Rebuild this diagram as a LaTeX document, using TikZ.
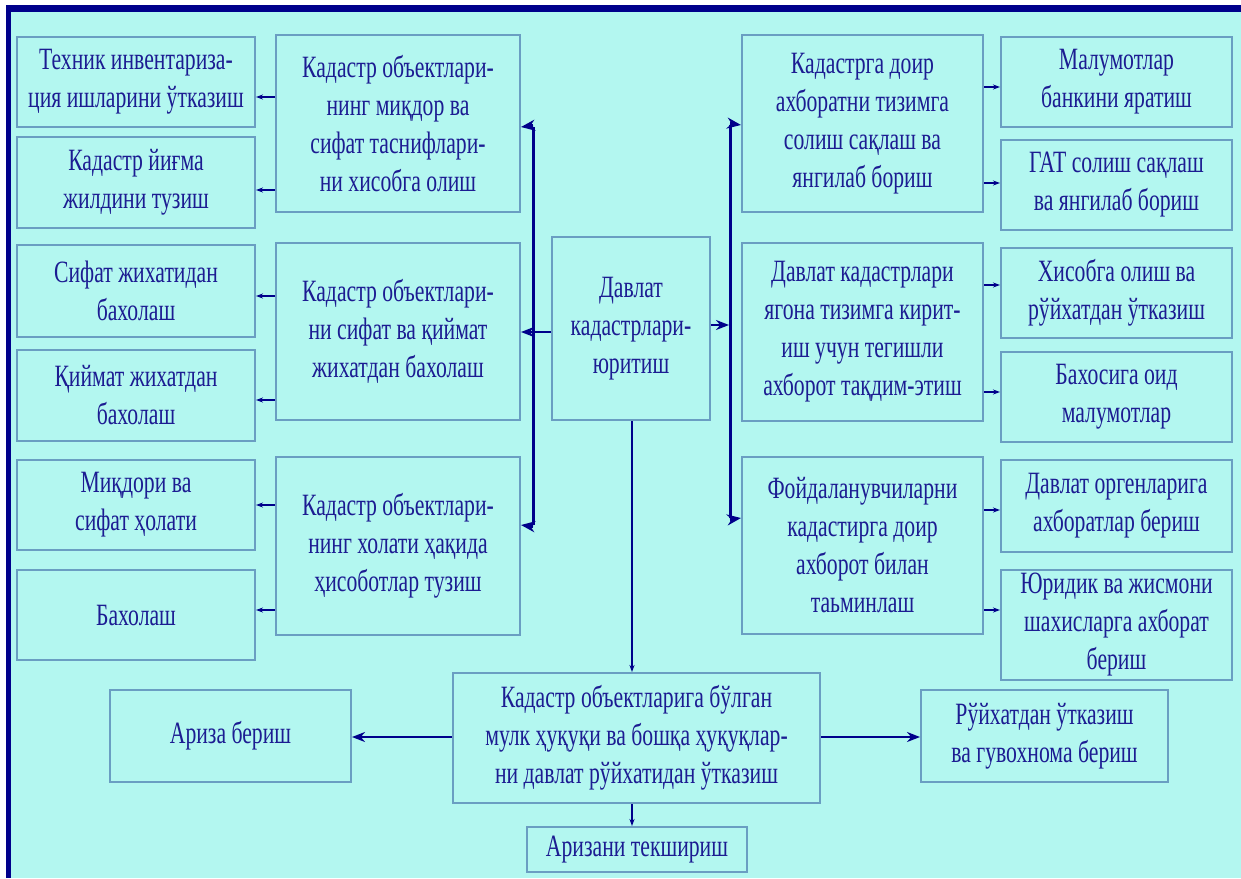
\documentclass[tikz,border=0pt]{standalone}
\usepackage{fontspec}
\setmainfont{Liberation Serif}[FakeStretch=0.70]
\usetikzlibrary{arrows.meta}
\definecolor{bg}{HTML}{B3F7F0}
\definecolor{navy}{HTML}{00008B}
\definecolor{txt}{HTML}{1C1C92}
\definecolor{bord}{HTML}{6A9EC2}
\begin{document}
\begin{tikzpicture}[x=1pt,y=-1pt,
  box/.style={draw=bord, line width=2pt, fill=bg, align=center, text=txt, inner sep=0pt,
              font=\fontsize{31}{38}\selectfont},
  sarrow/.style={draw=navy, line width=1.3pt, -{Stealth[length=7pt,width=5pt]}},
  marrow/.style={draw=navy, line width=2.2pt, -{Stealth[length=13pt,width=10pt]}},
  busline/.style={draw=navy, line width=3pt},
  busarrow/.style={draw=navy, line width=3pt, -{Stealth[length=14pt,width=11pt]}},
  ]
\useasboundingbox (0,0) rectangle (1241,878);
\fill[white] (0,0) rectangle (1241,878);
\fill[bg] (6,5) rectangle (1241,878);
\fill[navy] (6,5) rectangle (1241,12);
\fill[navy] (6,5) rectangle (11,878);

% left column
\node[box, minimum width=238, minimum height=90] (L1) at (136,82) {Техник инвентариза-\\ция ишларини ўтказиш};
\node[box, minimum width=238, minimum height=91] (L2) at (136,182.5) {Кадастр йиғма\\жилдини тузиш};
\node[box, minimum width=238, minimum height=92] (L3) at (136,291) {Сифат жихатидан\\бахолаш};
\node[box, minimum width=238, minimum height=91] (L4) at (136,395.5) {Қиймат жихатдан\\бахолаш};
\node[box, minimum width=238, minimum height=90] (L5) at (136,505) {Миқдори ва\\сифат ҳолати};
\node[box, minimum width=238, minimum height=90] (L6) at (136,615) {Бахолаш};

% middle-left column
\node[box, minimum width=244, minimum height=177] (M1) at (398,123.5) {Кадастр объектлари-\\нинг миқдор ва\\сифат таснифлари-\\ни хисобга олиш};
\node[box, minimum width=244, minimum height=177] (M2) at (398,331.5) {Кадастр объектлари-\\ни сифат ва қиймат\\жихатдан бахолаш};
\node[box, minimum width=244, minimum height=178] (M3) at (398,546) {Кадастр объектлари-\\нинг холати ҳақида\\ҳисоботлар тузиш};

% center
\node[box, minimum width=158, minimum height=183] (C) at (631,328.5) {Давлат\\кадастрлари-\\юритиш};

% middle-right column
\node[box, minimum width=241, minimum height=177] (R1) at (862.5,123.5) {Кадастрга доир\\ахборатни тизимга\\солиш сақлаш ва\\янгилаб бориш};
\node[box, minimum width=241, minimum height=178] (R2) at (862.5,332) {Давлат кадастрлари\\ягона тизимга кирит-\\иш учун тегишли\\ахборот тақдим-этиш};
\node[box, minimum width=241, minimum height=177] (R3) at (862.5,545.5) {Фойдаланувчиларни\\кадастирга доир\\ахборот билан\\таьминлаш};

% far-right column
\node[box, minimum width=231, minimum height=90] (F1) at (1116.5,82) {Малумотлар\\банкини яратиш};
\node[box, minimum width=231, minimum height=90] (F2) at (1116.5,185) {ГАТ солиш сақлаш\\ва янгилаб бориш};
\node[box, minimum width=231, minimum height=90] (F3) at (1116.5,293) {Хисобга олиш ва\\рўйхатдан ўтказиш};
\node[box, minimum width=231, minimum height=90] (F4) at (1116.5,397) {Бахосига оид\\малумотлар};
\node[box, minimum width=231, minimum height=92] (F5) at (1116.5,506) {Давлат оргенларига\\ахборатлар бериш};
\node[box, minimum width=231, minimum height=110] (F6) at (1116.5,625) {Юридик ва жисмони\\шахисларга ахборат\\бериш};

% bottom
\node[box, minimum width=367, minimum height=130] (B) at (636.5,738) {Кадастр объектларига бўлган\\мулк ҳуқуқи ва бошқа ҳуқуқлар-\\ни давлат рўйхатидан ўтказиш};
\node[box, minimum width=241, minimum height=92] (A) at (230.5,736) {Ариза бериш};
\node[box, minimum width=247, minimum height=92] (G) at (1044.5,736) {Рўйхатдан ўтказиш\\ва гувохнома бериш};
\node[box, minimum width=220, minimum height=45] (T) at (637,849.5) {Аризани текшириш};

% small arrows left
\draw[sarrow] (M1.west |- 0,97) -- (L1.east |- 0,97);
\draw[sarrow] (M1.west |- 0,190) -- (L2.east |- 0,190);
\draw[sarrow] (M2.west |- 0,296) -- (L3.east |- 0,296);
\draw[sarrow] (M2.west |- 0,400) -- (L4.east |- 0,400);
\draw[sarrow] (M3.west |- 0,505) -- (L5.east |- 0,505);
\draw[sarrow] (M3.west |- 0,610) -- (L6.east |- 0,610);

% small arrows right
\draw[sarrow] (R1.east |- 0,87) -- (F1.west |- 0,87);
\draw[sarrow] (R1.east |- 0,183) -- (F2.west |- 0,183);
\draw[sarrow] (R2.east |- 0,285) -- (F3.west |- 0,285);
\draw[sarrow] (R2.east |- 0,392) -- (F4.west |- 0,392);
\draw[sarrow] (R3.east |- 0,510) -- (F5.west |- 0,510);
\draw[sarrow] (R3.east |- 0,610) -- (F6.west |- 0,610);

% left bus
\coordinate (lbt) at (533,127);
\coordinate (lbb) at (533,525);
\draw[busline] (lbt) -- (lbb);
\draw[busarrow] ([yshift=1.5pt]lbt) -- (M1.east |- lbt);
\draw[busarrow] ([yshift=-1.5pt]lbb) -- (M3.east |- lbb);
\draw[marrow] (C.west |- 0,332) -- (M2.east |- 0,332);

% right bus
\coordinate (rbt) at (730,125);
\coordinate (rbb) at (730,518);
\draw[busline] (rbt) -- (rbb);
\draw[busarrow] ([yshift=1.5pt]rbt) -- (R1.west |- rbt);
\draw[busarrow] ([yshift=-1.5pt]rbb) -- (R3.west |- rbb);
\draw[marrow] (C.east |- 0,325) -- ([xshift=-1pt]rbt |- 0,325);

% vertical and bottom arrows
\draw[sarrow] (C.south -| 632,0) -- (B.north -| 632,0);
\draw[sarrow] (B.south -| 632,0) -- (T.north -| 632,0);
\draw[marrow] (B.west |- 0,737) -- (A.east |- 0,737);
\draw[marrow] (B.east |- 0,737) -- (G.west |- 0,737);
\end{tikzpicture}
\end{document}
